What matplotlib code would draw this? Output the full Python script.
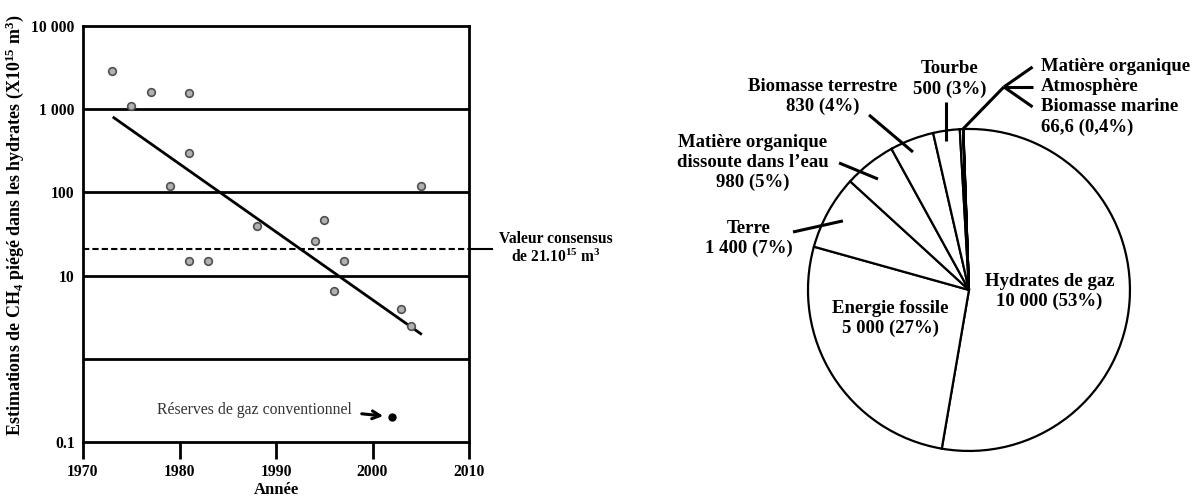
import numpy as np
import matplotlib.pyplot as plt

plt.rcParams['font.family'] = ['Liberation Serif', 'DejaVu Serif']
plt.rcParams['font.weight'] = 'bold'
plt.rcParams['axes.labelweight'] = 'bold'
plt.rcParams['mathtext.fontset'] = 'custom'
plt.rcParams['mathtext.rm'] = 'Liberation Serif:bold'
plt.rcParams['mathtext.it'] = 'Liberation Serif:bold'
plt.rcParams['mathtext.bf'] = 'Liberation Serif:bold'

# estimations publiées du CH4 piégé dans les hydrates (x10^15 m3)
annees = [1973, 1975, 1977, 1979, 1981, 1981, 1981, 1983, 1988,
          1994, 1995, 1996, 1997, 2003, 2004, 2005]
estimations = [2900, 1100, 1600, 120, 1550, 300, 15, 15, 40,
               26, 46, 6.5, 15, 4.0, 2.5, 120]
tendance_x = [1973.2, 2005]
tendance_y = [790, 2.0]
consensus = 21
gaz_conv_annee = 2002
gaz_conv_val = 0.2

y_ticks = [10000, 1000, 100, 10, 1, 0.1]
y_labels = ["10 000", "1 000", "100", "10", "", "0.1"]
x_ticks = [1970, 1980, 1990, 2000, 2010]

# réservoirs de carbone organique (x10^15 g C)
reservoirs = ["Hydrates de gaz", "Energie fossile", "Terre",
              "Matière organique dissoute", "Biomasse terrestre", "Tourbe",
              "Matière organique", "Atmosphère", "Biomasse marine"]
stocks = [10000, 5000, 1400, 980, 830, 500, 60, 3.6, 3.0]

fig = plt.figure(figsize=(12.04, 4.97), dpi=100)

# --- graphique de gauche : estimations au cours du temps ---
ax = fig.add_axes([83 / 1204, 55 / 497, 386 / 1204, 416 / 497])
ax.set_yscale('log')
ax.set_xlim(1970, 2010)
ax.set_ylim(0.1, 10000)

for v in [1000, 100, 10, 1]:
    ax.axhline(v, color='black', lw=2)

ax.plot([1970, 2010], [consensus, consensus], color='black', lw=1.5,
        ls=(0, (3, 1.5)))
ax.plot([2010, 2012.4], [consensus, consensus], color='black', lw=1.5,
        clip_on=False)
ax.text(2019, consensus, "Valeur consensus\nde 21.10$^{15}$ m$^{3}$",
        ha='center', va='center', fontsize=11.2, linespacing=1.1)

ax.plot(tendance_x, tendance_y, color='black', lw=2)
ax.plot(annees, estimations, 'o', ms=5.5, mfc='#b0b0b0', mec='#505050',
        mew=1.2)

ax.plot(gaz_conv_annee, gaz_conv_val, 'o', ms=5, color='black')
ax.annotate("", xy=(gaz_conv_annee - 0.6, gaz_conv_val * 1.02),
            xytext=(1998.6, gaz_conv_val * 1.1),
            arrowprops=dict(arrowstyle='->', lw=2.2, color='black',
                            mutation_scale=14))
ax.text(1997.9, 0.24, "Réserves de gaz conventionnel", ha='right',
        va='center', fontsize=11.3, fontweight='normal', color='#333333')

ax.set_yticks(y_ticks)
ax.set_yticklabels(y_labels)
ax.set_xticks(x_ticks)
ax.minorticks_off()
ax.tick_params(axis='y', length=0, pad=6, labelsize=11.3)
ax.tick_params(axis='x', direction='out', length=12, width=2, pad=4,
               labelsize=11.3)
for s in ax.spines.values():
    s.set_linewidth(2)

ax.set_xlabel("Année", fontsize=12)
ax.xaxis.set_label_coords(0.5, -0.095)
ax.set_ylabel("Estimations de CH$_4$ piégé dans les hydrates "
              "(X10$^{15}$ m$^{3}$)", fontsize=13)
ax.yaxis.set_label_coords(-0.148, 0.52)

# --- graphique de droite : camembert des réservoirs ---
pax = fig.add_axes([600 / 1204, 0, 604 / 1204, 1])
pax.pie(stocks, startangle=92, counterclock=False, radius=1,
        colors=['white'] * len(stocks),
        wedgeprops=dict(edgecolor='black', linewidth=1.6))
pax.set_aspect('auto')
pax.set_xlim(-2.292, 1.460)
pax.set_ylim(-1.286, 1.801)
pax.axis('off')

fs = 13.5
ls = 1.2
pax.text(0.50, -0.01, "Hydrates de gaz\n10 000 (53%)", ha='center',
         va='center', fontsize=fs, linespacing=ls)
pax.text(-0.49, -0.18, "Energie fossile\n5 000 (27%)", ha='center',
         va='center', fontsize=fs, linespacing=ls)
pax.text(-1.366, 0.32, "Terre\n1 400 (7%)", ha='center', va='center',
         fontsize=fs, linespacing=ls)
pax.text(-1.345, 0.79, "Matière organique\ndissoute dans l’eau\n980 (5%)",
         ha='center', va='center', fontsize=fs, linespacing=ls)
pax.text(-0.907, 1.20, "Biomasse terrestre\n830 (4%)", ha='center',
         va='center', fontsize=fs, linespacing=ls)
pax.text(-0.118, 1.31, "Tourbe\n500 (3%)", ha='center', va='center',
         fontsize=fs, linespacing=1.28)
pax.text(0.447, 1.20, "Matière organique\nAtmosphère\nBiomasse marine\n"
         "66,6 (0,4%)", ha='left', va='center', fontsize=fs,
         linespacing=1.25)

# traits de rappel
lk = dict(color='black', lw=2.2, solid_capstyle='butt')
pax.plot([-0.143, -0.143], [1.168, 0.925], **lk)
pax.plot([-0.621, -0.348], [1.087, 0.857], **lk)
pax.plot([-0.807, -0.565], [0.789, 0.689], **lk)
pax.plot([-1.093, -0.783], [0.360, 0.429], **lk)
pax.plot([-0.043, 0.217], [0.994, 1.261], **lk)
for yb in [1.385, 1.261, 1.137]:
    pax.plot([0.217, 0.395], [1.261, yb], **lk)

fig.savefig("out.png", dpi=100)
